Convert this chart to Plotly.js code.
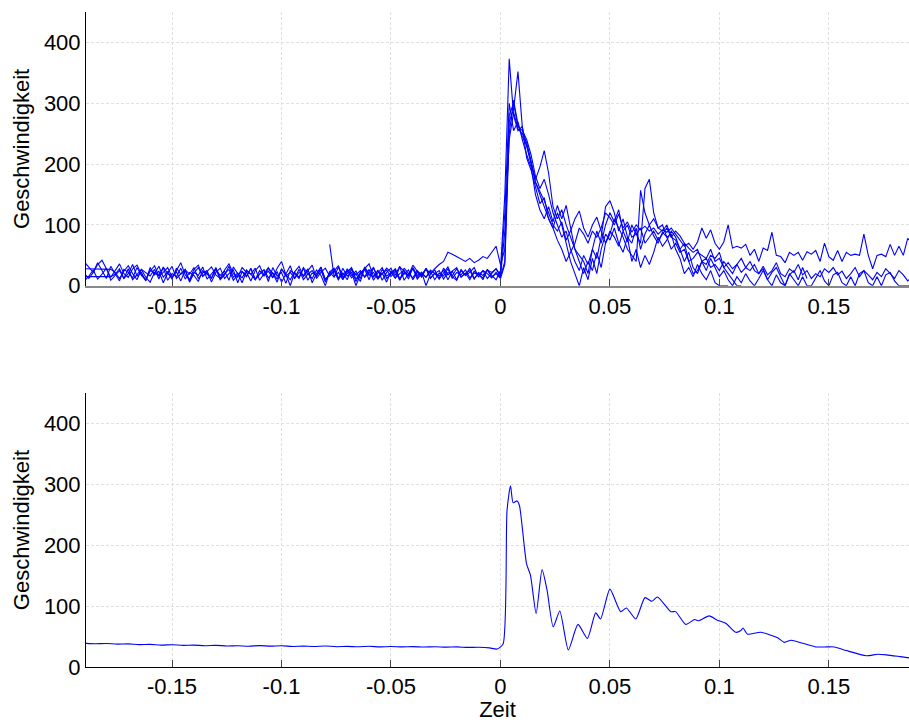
<!DOCTYPE html>
<html>
<head>
<meta charset="utf-8">
<script src="https://cdn.plot.ly/plotly-3.0.1.min.js"></script>
<style>
  html, body { margin: 0; padding: 0; background: #fff; }
  #chart { width: 909px; height: 722px; }
</style>
</head>
<body>
<div id="chart"></div>
<script>
// Sample grid of the single trials: 2 ms steps starting at -0.19 s
const T0 = -0.19;
const DT = 0.002;

// Single trials (speed per sample); trials that start late have a start index
const trial1 = [
  39,30,22,35,42,28,14,25,36,20, 14,28,34,19,10,24,33,16,22,30,
  14,25,38,18,10,27,34,16,24,31, 18,12,26,36,20,14,30,22,8,25,
  33,17,24,13,29,40,18,10,23,32, 15,25,34,12,22,29,16,24,33,14,
  23,30,11,21,28,36,15,24,19,29, 22,12,31,24,17,34,23,14,28,20,
  28,35,40,55,52,48,44,40,45,38, 42,48,45,55,65,
  35,60,270,290,352,260,230,200,170,150,
  130,110,95,75,60,40,55,70,95,85,
  70,90,80,95,120,112,100,118,95,105,
  88,100,92,98,90,95,85,92,88,95,
  85,75,65,70,60,72,95,78,92,70,
  60,72,100,62,65,62,68,50,60,40,
  62,58,88,50,48,38,55,50,55,42,
  56,52,58,40,70,48,42,58,40,55,
  50,52,50,85,50,28,50,52,48,68,
  50,65,50,78,70
];
const trial2 = [
  28,28,28,28,28,28,27,22,12,24, 33,20,10,27,22,16,27,11,31,20,
  14,23,8,26,19,30,12,21,25,6, 22,29,12,20,26,5,23,16,28,10,
  19,26,7,30,16,22,4,25,20,12, 29,9,21,17,26,6,23,14,31,11,
  20,28,7,22,15,27,9,21,30,12, 19,26,10,22,16,29,11,20,14,24,
  10,21,16,28,12,22,18,26,13,21, 18,25,12,20,28,
  15,40,280,300,262,255,240,215,180,160,
  175,150,120,100,80,90,60,40,25,50,
  35,60,45,80,130,140,120,90,110,80,
  70,95,60,85,100,82,70,88,80,60,
  70,55,60,40,45,55,50,45,60,40,
  45,30,38,28,35,22,30,40,25,20,
  32,18,25,38,20,15,28,22,35,18,
  25,12,20,15,28,22,30,18,24,12,
  20,30,15,25,18,10,22,15,28,20,
  12,25,18,8,15
];
const trial3 = [
  15,15,15,15,15,15,15,19,28,12, 20,35,16,22,8,30,18,24,5,21,
  32,12,19,27,8,22,17,31,11,20, 28,10,18,32,14,21,5,24,19,29,
  9,20,30,14,23,6,19,33,12,22, 17,28,5,20,31,11,18,25,9,29,
  16,22,0,19,27,10,30,14,21,6, 24,18,32,9,20,28,14,22,0,19,
  26,11,21,31,15,9,25,17,29,12, 20,10,27,17,10,
  25,150,373,280,255,262,210,190,160,135,
  145,110,95,120,100,70,40,20,0,30,
  10,45,20,60,85,75,95,70,55,80,
  40,60,30,50,35,55,80,65,75,90,
  80,60,40,55,30,20,40,25,45,30,
  15,25,10,0,15,5,20,8,0,12,
  25,10,0,18,5,0,20,10,0,15,
  0,0,12,25,8,0,18,22,5,0,
  15,0,20,25,5,0,15,0,18,22,
  8,0,0,0,0
];
const trial4 = [
  20,12,22,38,25,12,32,20,8,27, 22,13,30,17,9,26,20,32,14,23,
  11,29,19,25,6,21,30,15,22,12, 27,17,24,9,31,20,13,26,19,10,
  25,16,29,21,11,27,19,0,22,14, 30,20,12,26,17,0,23,29,13,21,
  10,27,18,25,14,22,30,11,20,26, 15,24,9,29,20,13,25,18,28,12,
  21,16,26,10,24,30,15,20,25,11, 22,17,26,14,20,
  12,35,250,305,265,245,230,200,175,195,
  222,185,130,110,125,100,80,60,50,40,
  20,60,90,70,100,120,105,125,90,100,
  80,85,70,160,175,120,95,100,80,85,
  60,45,20,30,15,35,20,10,25,5,
  0,0,0
];
const trial5 = [
  8,16,26,11,19,29,9,17,25,12, 28,10,19,27,14,6,22,17,30,9,
  20,15,29,11,22,17,7,25,19,13, 30,12,20,27,9,18,24,15,29,11,
  19,26,13,21,6,28,16,22,12,27, 10,19,25,15,30,9,20,27,12,18,
  25,13,20,7,29,17,22,11,27,16, 21,28,12,19,26,10,22,16,29,13,
  20,25,11,22,17,28,14,21,10,24, 19,13,26,22,28,
  18,120,300,255,270,240,215,195,150,125,
  110,130,105,132,110,132,95,60,40,20,
  40,25,55,30,70,85,110,95,80,60,
  50,40,157,120,100,110,95,90,100,80,
  75,60,70,40,20,25,40,35,50,45,
  55,30,20,10,0,0
];
const trial6Start = 56;
const trial6 = [
  68,15,22,10,
  28,17,24,12,31,20,14,26,9,22, 29,13,20,25,11,30,17,22,14,26,
  20,12,29,18,24,10,27,17,22,30, 14,25,20,13,22,
  14,90,240,285,258,250,235,205,170,155,
  140,120,100,90,105,75,90,110,123,95,
  80,100,113,90,70,90,80,65,90,72,
  100,85,95,70,80,90,75,85,95,80,
  90,82,70,62,55,60,40,45,30,35,
  25,40,30,20,35,45,30,25,35,20,
  28,10,22,30,15,0,18,25,10,30,
  12
];

// Average over all trials
const avgTime = [
  -0.1893,-0.185,-0.18,-0.175,-0.17,-0.165,-0.16,-0.155,-0.15,-0.145,
  -0.14,-0.135,-0.13,-0.125,-0.12,-0.115,-0.11,-0.105,-0.10,-0.095,
  -0.09,-0.085,-0.08,-0.075,-0.07,-0.065,-0.06,-0.055,-0.05,-0.045,
  -0.04,-0.035,-0.03,-0.025,-0.02,-0.015,-0.01,-0.005,-0.0015,0.0012,
  0.003,0.0046,0.0058,0.0076,0.0087,0.0119,0.0137,0.0163,0.019,0.0213,
  0.0241,0.0271,0.031,0.0354,0.0397,0.0435,0.0457,0.05,0.0549,0.0575,
  0.0618,0.066,0.0691,0.0717,0.0778,0.08,0.0846,0.0887,0.0906,0.0953,
  0.0991,0.1029,0.1075,0.1098,0.1108,0.1128,0.1189,0.1266,0.1296,0.1327,
  0.138,0.144,0.1492,0.1525,0.158,0.1671,0.1723,0.1763,0.1826,0.1866
];
const avgSpeed = [
  38.8,38.2,38.6,37.6,38.0,36.8,37.2,36.0,36.6,35.6,
  35.9,35.0,35.6,34.6,34.9,34.2,35.1,34.3,34.9,33.8,
  34.3,33.7,34.6,33.4,33.9,33.2,34.0,33.1,33.6,33.0,
  33.5,32.8,33.3,32.6,33.0,32.2,32.4,31.4,29.5,37.7,
  257,298,270,273,265,170,151,88,160,126,
  66,92,28,70,47,89,79,128,91,97,
  79,114,108,115,91,91,70,78,76,84,
  77,72,57,60,64,54,57,48,40.5,44,
  39,33,33,33,27,18.5,21,20,17,15
];

const xTickVals = [-0.15, -0.1, -0.05, 0, 0.05, 0.1, 0.15];
const xTickText = ['-0.15', '-0.1', '-0.05', '0', '0.05', '0.1', '0.15'];
const yTickVals = [0, 100, 200, 300, 400];
const yTickText = ['0', '100', '200', '300', '400'];

function timesFor(values, start) {
  return values.map((_, i) => +(T0 + (start + i) * DT).toFixed(4));
}

const trials = [
  { v: trial1, s: 0 }, { v: trial2, s: 0 }, { v: trial3, s: 0 },
  { v: trial4, s: 0 }, { v: trial5, s: 0 }, { v: trial6, s: trial6Start }
];

const blue = '#0000ff';
const data = trials.map(tr => ({
  type: 'scatter', mode: 'lines',
  x: timesFor(tr.v, tr.s), y: tr.v,
  xaxis: 'x', yaxis: 'y',
  line: { color: blue, width: 1.1 },
  hoverinfo: 'skip'
}));
data.push({
  type: 'scatter', mode: 'lines',
  x: avgTime, y: avgSpeed,
  xaxis: 'x2', yaxis: 'y2',
  line: { color: blue, width: 1.1, shape: 'spline', smoothing: 0.6 },
  hoverinfo: 'skip'
});

const font = { family: 'Liberation Sans, Arial, sans-serif', size: 22, color: '#000' };
const gridCommon = {
  showgrid: true, gridcolor: '#e0e0e0', griddash: '3px,2px', gridwidth: 1,
  zeroline: false, showline: true, tickfont: font
};
const xCommon = Object.assign({}, gridCommon, {
  range: [-0.1893, 0.1866], tickmode: 'array',
  tickvals: xTickVals, ticktext: xTickText,
  ticks: 'inside', ticklen: 7, tickcolor: '#444', tickwidth: 1
});
const yCommon = Object.assign({}, gridCommon, {
  range: [0, 450], tickmode: 'array',
  tickvals: yTickVals, ticktext: yTickText,
  ticks: '', linecolor: '#000', linewidth: 1,
  title: { text: 'Geschwindigkeit', font: font, standoff: 8 }
});

const layout = {
  width: 909, height: 722,
  margin: { l: 86, r: 0, t: 12, b: 55 },
  paper_bgcolor: '#fff', plot_bgcolor: '#fff',
  showlegend: false,
  font: font,
  xaxis: Object.assign({}, xCommon, {
    domain: [0, 1], anchor: 'y',
    linecolor: '#888', linewidth: 2
  }),
  yaxis: Object.assign({}, yCommon, { domain: [0.582, 1], anchor: 'x' }),
  xaxis2: Object.assign({}, xCommon, {
    domain: [0, 1], anchor: 'y2',
    linecolor: '#000', linewidth: 1,
    title: { text: 'Zeit', font: font, standoff: 2 }
  }),
  yaxis2: Object.assign({}, yCommon, { domain: [0, 0.418], anchor: 'x2' })
};

Plotly.newPlot('chart', data, layout, { staticPlot: true, displayModeBar: false });
</script>
</body>
</html>
